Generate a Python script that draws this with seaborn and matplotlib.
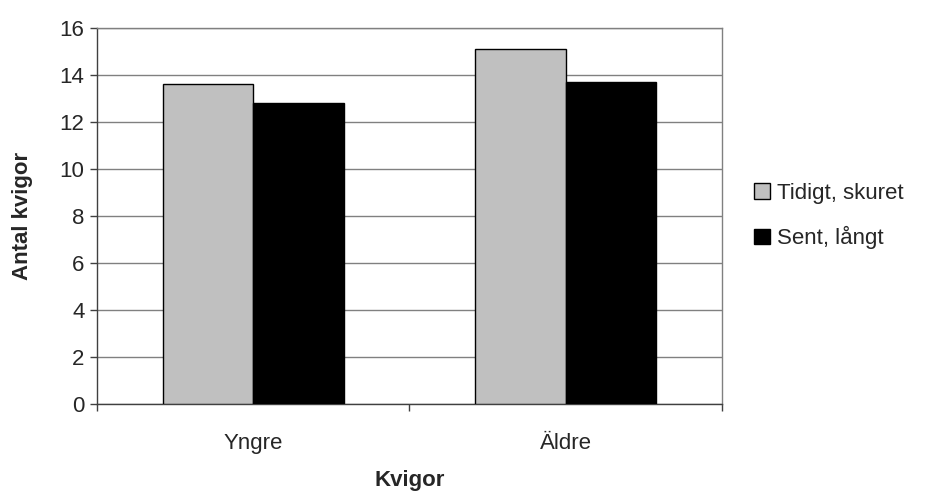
import matplotlib
matplotlib.use("Agg")
import matplotlib.pyplot as plt
import pandas as pd
import seaborn as sns
from matplotlib.ticker import FixedLocator

categories = ["Yngre", "Äldre"]
series_names = ["Tidigt, skuret", "Sent, långt"]
tidigt_values = [13.6, 15.1]
sent_values = [12.8, 13.7]

df = pd.DataFrame(
    {
        "Kvigor": categories * 2,
        "Antal": tidigt_values + sent_values,
        "Serie": [series_names[0]] * 2 + [series_names[1]] * 2,
    }
)

sns.set_style("white")
plt.rcParams["font.family"] = ["Liberation Sans", "DejaVu Sans"]

fig = plt.figure(figsize=(9.28, 4.99), dpi=100)
ax = fig.add_axes([0.1045, 0.19, 0.6735, 0.754])

sns.barplot(
    data=df,
    x="Kvigor",
    y="Antal",
    hue="Serie",
    palette=["#c0c0c0", "#000000"],
    width=0.58,
    edgecolor="black",
    linewidth=1,
    ax=ax,
    zorder=3,
)

ax.set_xlim(-0.5, 1.5)
ax.set_ylim(0, 16)
ax.set_yticks(range(0, 17, 2))
ax.yaxis.grid(True, color="#808080", linewidth=1, zorder=0)
ax.xaxis.grid(False)

for side in ["top", "right"]:
    ax.spines[side].set_color("#808080")
    ax.spines[side].set_linewidth(1)
for side in ["left", "bottom"]:
    ax.spines[side].set_color("#404040")
    ax.spines[side].set_linewidth(1)

ax.tick_params(axis="y", which="major", direction="out", length=5, width=1,
               color="#404040", labelsize=16, pad=4, left=True)
ax.tick_params(axis="x", which="major", length=0, labelsize=16, pad=21)
ax.xaxis.set_minor_locator(FixedLocator([-0.5, 0.5, 1.5]))
ax.tick_params(axis="x", which="minor", direction="out", length=5, width=1,
               color="#404040", bottom=True)

ax.set_xlabel("Kvigor", fontsize=16, fontweight="bold", labelpad=11)
ax.set_ylabel("Antal kvigor", fontsize=16, fontweight="bold", labelpad=19)

handles, labels = ax.get_legend_handles_labels()
ax.legend(
    handles,
    labels,
    loc="center left",
    bbox_to_anchor=(1.02, 0.5),
    frameon=False,
    fontsize=16,
    handlelength=0.7,
    handleheight=0.7,
    handletextpad=0.3,
    labelspacing=1.0,
)

fig.savefig("out.png", dpi=100)
